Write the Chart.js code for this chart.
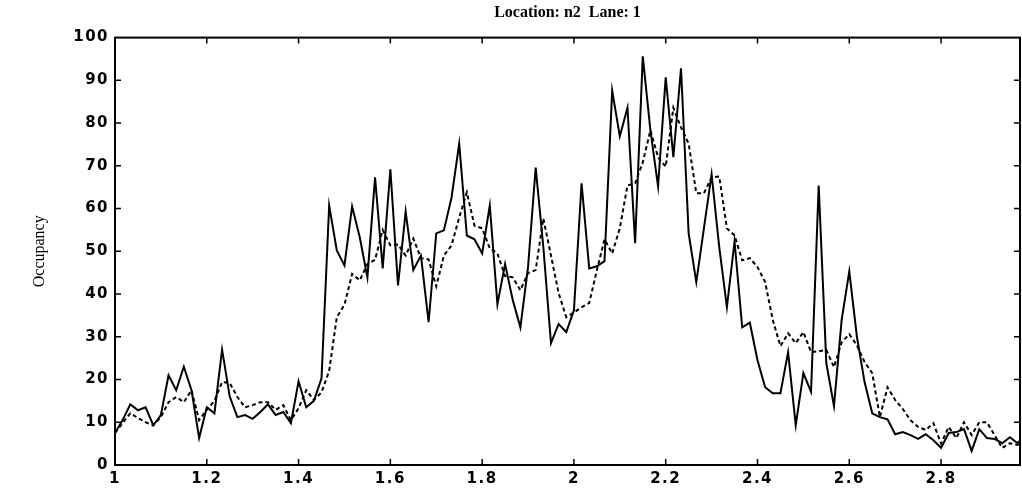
<!DOCTYPE html>
<html>
<head>
<meta charset="utf-8">
<title>Location: n2 Lane: 1</title>
<script src="https://cdn.jsdelivr.net/npm/chart.js@4.4.1/dist/chart.umd.min.js"></script>
<style>
    html, body { margin: 0; padding: 0; background: #fff; }
    #wrap { width: 1022px; height: 492px; position: relative; }
</style>
</head>
<body>
<div id="wrap"><canvas id="occChart"></canvas></div>
<script>
// === Data (one sample per minute, time in hours) ===
const timeStart = 1;
const timeStep = 1 / 60;

// measured occupancy (solid line)
const measured = [
    7.5, 10.5, 14.2, 12.8, 13.5, 9.3, 11.7, 21, 17.5, 23,
    17.5, 6.3, 13.5, 12.1, 27, 16, 11.2, 11.7, 10.8, 12.4,
    14.2, 11.7, 12.4, 9.8, 19.6, 13.5, 15, 20.3, 60.7, 50.2,
    46.7, 60.5, 53.3, 43.9, 67.3, 46, 69.2, 42, 59.3, 45.6,
    49, 33.4, 54.2, 54.9, 62.6, 75.2, 53.7, 52.8, 49.5, 60.7,
    37.6, 47, 38.6, 32.2, 46.3, 69.6, 51, 28.5, 33, 31.1,
    36.2, 65.9, 46, 46.5, 47.7, 87.6, 76.9, 83.6, 51.9, 95.6,
    78.3, 65.2, 90.7, 72, 92.8, 54.2, 42.8, 55.4, 68, 51,
    36.9, 52.3, 32.2, 33.3, 24.5, 18.2, 16.8, 16.8, 26.4, 9.3,
    21.5, 17.1, 65.4, 23.8, 13.8, 33.9, 45.3, 30, 19.4, 12.1,
    11.2, 10.7, 7.2, 7.7, 7, 6.1, 7.2, 5.8, 4, 7.5,
    7.7, 8.4, 3.3, 8.4, 6.3, 6.1, 5.1, 6.5, 5.1, 7
];

// estimated occupancy (dashed line)
const estimated = [
    7.5, 9.8, 12.1, 11, 10, 9.3, 11.2, 14.7, 15.9, 14.7,
    17.5, 10.5, 12.9, 15, 19.4, 19.2, 15.9, 13.5, 14, 14.7,
    14.7, 12.9, 14, 10.5, 13.3, 17.5, 15.2, 17, 22, 34.6,
    37.5, 44.7, 43.2, 47, 48, 55, 51.4, 51.6, 49, 53,
    48.4, 48.1, 41.8, 49, 51.4, 57.9, 63.8, 56, 55.4, 50.7,
    49.5, 44.2, 43.9, 40.9, 44.9, 45.6, 57.7, 49, 40.2, 34.6,
    35.7, 36.9, 37.9, 45.6, 52.8, 49.5, 55.4, 65.4, 65.9, 70.8,
    78.3, 72, 69.8, 83.6, 79, 75.2, 63.6, 63.6, 67.3, 67.5,
    55.4, 53.7, 47.9, 48.4, 46.3, 42.8, 33.9, 27.8, 30.8, 28.5,
    31.1, 26.4, 26.6, 26.9, 22.9, 28.7, 30.6, 28, 24.1, 21.5,
    11.2, 18.2, 15.2, 13.1, 10.5, 8.9, 8.2, 9.8, 5, 8.9,
    6.3, 10, 7, 10, 10, 7, 4, 5.1, 4.7, 5.4
];

const xTicks = [1, 1.2, 1.4, 1.6, 1.8, 2, 2.2, 2.4, 2.6, 2.8];
const yTicks = [0, 10, 20, 30, 40, 50, 60, 70, 80, 90, 100];

const toPoints = vals => vals.map((v, i) => ({ x: timeStart + i * timeStep, y: v }));

// === Helpers ===
// the scanned figure has wide tick lettering, so spread the tick labels only
function spreadLabels(scale) {
    if (scale._spread) return;
    const drawLabels = scale.drawLabels.bind(scale);
    scale.drawLabels = area => {
        scale.ctx.letterSpacing = '1.5px';
        drawLabels(area);
        scale.ctx.letterSpacing = '0px';
    };
    scale._spread = true;
}

// box round the plot with inward tick marks on all four sides
const frameTicks = {
    id: 'frameTicks',
    afterDatasetsDraw(chart) {
        const { ctx, chartArea: a, scales: { x, y } } = chart;
        ctx.save();
        ctx.strokeStyle = '#000';
        ctx.lineWidth = 2;
        ctx.strokeRect(a.left, a.top, a.right - a.left, a.bottom - a.top);
        ctx.lineWidth = 1.5;
        ctx.beginPath();
        xTicks.slice(1).forEach(v => {
            const px = x.getPixelForValue(v);
            ctx.moveTo(px, a.bottom); ctx.lineTo(px, a.bottom - 6);
            ctx.moveTo(px, a.top); ctx.lineTo(px, a.top + 6);
        });
        yTicks.slice(1, -1).forEach(v => {
            const py = y.getPixelForValue(v);
            ctx.moveTo(a.left, py); ctx.lineTo(a.left + 6, py);
            ctx.moveTo(a.right, py); ctx.lineTo(a.right - 6, py);
        });
        ctx.stroke();
        ctx.restore();
    }
};

// === Chart ===
const tickFont = { family: "'DejaVu Sans', sans-serif", size: 15, weight: 'bold' };
const serifFont = "'Liberation Serif', 'Times New Roman', serif";

new Chart(document.getElementById('occChart'), {
    type: 'line',
    data: {
        datasets: [
            {
                label: 'Measured',
                data: toPoints(measured),
                borderColor: '#000',
                borderWidth: 2,
                pointRadius: 0,
                tension: 0
            },
            {
                label: 'Estimated',
                data: toPoints(estimated),
                borderColor: '#000',
                borderWidth: 2,
                borderDash: [4, 3],
                pointRadius: 0,
                tension: 0
            }
        ]
    },
    options: {
        responsive: true,
        maintainAspectRatio: false,
        animation: false,
        devicePixelRatio: 1,
        layout: { padding: { left: 0, right: 2, top: 0, bottom: 0 } },
        plugins: {
            legend: { display: false },
            tooltip: { enabled: false },
            title: {
                display: true,
                text: 'Location: n2  Lane: 1',
                fullSize: false,
                color: '#000',
                font: { family: serifFont, size: 16, weight: 'bold' },
                padding: { top: 3, bottom: 15.4 }
            }
        },
        scales: {
            x: {
                type: 'linear',
                min: 1,
                max: 2.972,
                afterBuildTicks: s => { s.ticks = xTicks.map(v => ({ value: v })); },
                afterFit: s => { s.height = 27; spreadLabels(s); },
                ticks: {
                    autoSkip: false,
                    maxRotation: 0,
                    color: '#000',
                    font: tickFont,
                    padding: 5,
                    callback: v => String(+v.toFixed(1))
                },
                grid: { drawOnChartArea: false, drawTicks: false },
                border: { display: false }
            },
            y: {
                min: 0,
                max: 100,
                afterBuildTicks: s => { s.ticks = yTicks.map(v => ({ value: v })); },
                afterFit: s => { s.width = 115; spreadLabels(s); },
                ticks: {
                    color: '#000',
                    font: tickFont,
                    padding: 6
                },
                grid: { drawOnChartArea: false, drawTicks: false },
                border: { display: false },
                title: {
                    display: true,
                    text: 'Occupancy',
                    color: '#000',
                    font: { family: serifFont, size: 16 },
                    padding: { top: 30, bottom: 0 }
                }
            }
        }
    },
    plugins: [frameTicks]
});
</script>
</body>
</html>
